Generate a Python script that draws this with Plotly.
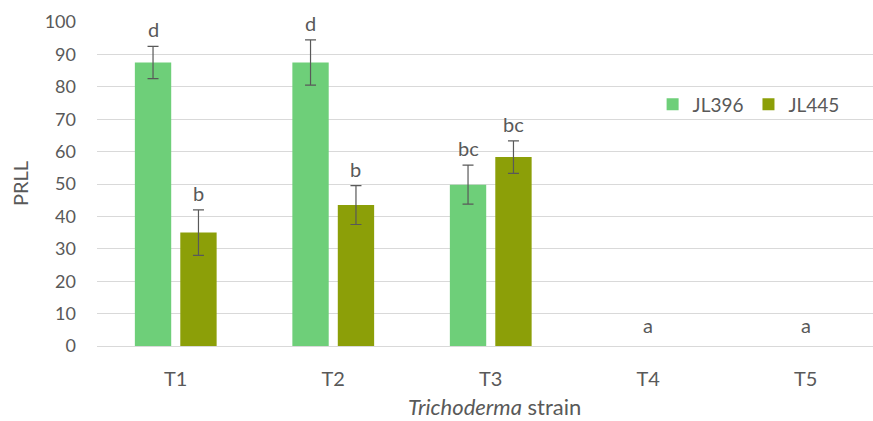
import plotly.graph_objects as go

categories = ["T1", "T2", "T3", "T4", "T5"]
series_names = ["JL396", "JL445"]
jl396_values = [87.5, 87.5, 49.8, 0, 0]
jl396_errors = [5.0, 7.0, 6.0, 0, 0]
jl396_labels = ["d", "d", "bc", "", ""]
jl445_values = [35.0, 43.5, 58.3, 0, 0]
jl445_errors = [7.0, 6.0, 5.0, 0, 0]
jl445_labels = ["b", "b", "bc", "", ""]
zero_labels = ["", "", "", "a", "a"]

colors = ["#6ecf79", "#8c9f08"]
text_color = "#595959"
grid_color = "#d9d9d9"
font_family = "Lato, 'Open Sans', sans-serif"

W, H = 873, 421
ml, mt, mb = 97, 22, 75
cat_px = 157.5
bargap = 0.423
bargroupgap = 0.2
x_max = -0.5 + (W - ml) / cat_px
slot_off = (1 - bargap) * cat_px / 4

fig = go.Figure()
for name, vals, errs, col in [
    (series_names[0], jl396_values, jl396_errors, colors[0]),
    (series_names[1], jl445_values, jl445_errors, colors[1]),
]:
    # zero-height bars with zero error are not drawn (avoids flat error caps)
    y_plot = [v if (v or e) else None for v, e in zip(vals, errs)]
    fig.add_trace(go.Bar(
        x=categories, y=y_plot, name=name, marker_color=col,
        marker_line_width=0,
        error_y=dict(type="data", array=errs, visible=True, color=text_color,
                     thickness=1.2, width=5.5),
    ))

annotations = []
for labels, vals, errs, sign in [
    (jl396_labels, jl396_values, jl396_errors, -1),
    (jl445_labels, jl445_values, jl445_errors, 1),
]:
    for c, lab, v, e in zip(categories, labels, vals, errs):
        if lab:
            annotations.append(dict(
                x=c, y=v + e, xref="x", yref="y", text=lab, showarrow=False,
                xshift=sign * slot_off, yshift=3, yanchor="bottom",
                font=dict(size=20, color=text_color, family=font_family)))
for c, lab in zip(categories, zero_labels):
    if lab:
        annotations.append(dict(
            x=c, y=0, xref="x", yref="y", text=lab, showarrow=False,
            yshift=7, yanchor="bottom",
            font=dict(size=20, color=text_color, family=font_family)))

annotations.append(dict(
    x=(495 - ml) / (W - ml), y=0, xref="paper", yref="paper",
    text="<i>Trichoderma</i> strain", showarrow=False, yshift=-60,
    yanchor="middle", xanchor="center",
    font=dict(size=22, color=text_color, family=font_family)))
annotations.append(dict(
    x=0, y=0.5, xref="paper", yref="paper", text="PRLL", showarrow=False,
    xshift=-77, textangle=-90, xanchor="center", yanchor="middle",
    font=dict(size=20, color=text_color, family=font_family)))

fig.update_layout(
    width=W, height=H,
    margin=dict(l=ml, r=0, t=mt, b=mb, autoexpand=False),
    paper_bgcolor="white", plot_bgcolor="white",
    barmode="group", bargap=bargap, bargroupgap=bargroupgap,
    font=dict(family=font_family, size=18, color=text_color),
    showlegend=True,
    legend=dict(orientation="h", x=0.716, y=0.746, xanchor="left",
                yanchor="middle", font=dict(size=19, color=text_color),
                bgcolor="rgba(0,0,0,0)", itemwidth=30),
    annotations=annotations,
    xaxis=dict(range=[-0.5, x_max], showgrid=False, showline=True,
               linecolor=grid_color, linewidth=1, ticks="",
               ticklabelstandoff=15, tickfont=dict(size=20, color=text_color),
               zeroline=False),
    yaxis=dict(range=[0, 100], dtick=10, showgrid=True, gridcolor=grid_color,
               gridwidth=1, zeroline=False, showline=False, ticks="",
               ticklabelstandoff=20, tickfont=dict(size=18, color=text_color)),
)

fig.write_html("out.html", config={"displayModeBar": False},
               post_script="document.body.style.margin='0';document.body.style.overflow='hidden';")
